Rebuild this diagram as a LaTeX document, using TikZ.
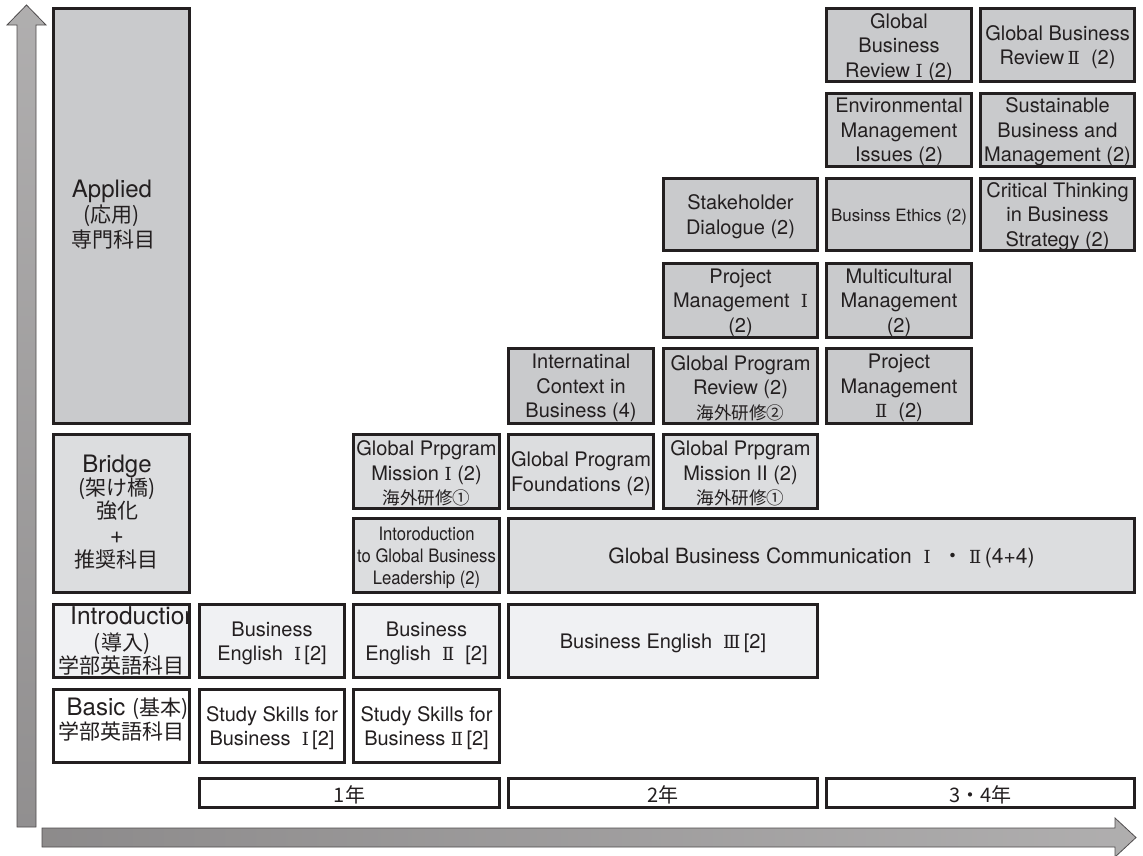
\documentclass[tikz,border=0pt]{standalone}
\usepackage{fontspec}
\setmainfont{TeX Gyre Heros}
\newfontfamily\jp{Noto Sans CJK JP}
\newfontfamily\rnf{DejaVu Serif}
\newfontfamily\cond[FakeStretch=0.9]{TeX Gyre Heros}
\definecolor{ink}{HTML}{231F20}
\definecolor{appl}{HTML}{C9CACC}
\definecolor{brdg}{HTML}{DCDDDF}
\definecolor{intro}{HTML}{F0F1F3}
\newcommand\RN[1]{{\rnf\fontsize{18pt}{24.5pt}\selectfont #1}}
\newcommand\J[1]{{\jp\fontsize{17.5pt}{24.5pt}\selectfont #1}}
\newcommand\JL[1]{{\jp\fontsize{21pt}{24.5pt}\selectfont #1}}
\newcommand\cbox[8][]{%
  \node[cb,fill=#7,minimum width={#5-#3-2.6},minimum height={#6-#4-2.6}] (#2) at ({(#3+#5)/2},{(#4+#6)/2}) {};
  \node[ctext,#1] (#2t) at ([yshift=-2.2pt]#2.center) {#8};}
\begin{document}
\begin{tikzpicture}[x=1pt,y=-1pt,
  cb/.style={draw=ink, line width=2.6pt, inner sep=0pt},
  ctext/.style={inner sep=0pt, align=center, text=ink, font=\fontsize{20pt}{24.5pt}\selectfont},
  lbl/.style={inner sep=0pt, text=ink, font=\fontsize{24pt}{24.5pt}\selectfont},
  yr/.style={font=\jp\fontsize{20pt}{22pt}\selectfont}]
\useasboundingbox (0,0) rectangle (1143,855);
% axes arrows
\path[draw=ink!80, line width=0.8pt, top color=ink!36, bottom color=ink!50]
  (17,827) -- (17,25) -- (7,25) -- (26.5,5) -- (46,25) -- (36,25) -- (36,827) -- cycle;
\path[draw=ink!80, line width=0.8pt, left color=ink!52, right color=ink!36]
  (42,828) -- (1115,828) -- (1115,818) -- (1136,837.5) -- (1115,857) -- (1115,847) -- (42,847) -- cycle;
% left level boxes
\cbox{applied}{52}{7}{191}{425}{appl}{}
\cbox{bridge}{52}{433}{191}{594}{brdg}{}
\cbox{introd}{52}{603}{191}{679}{intro}{}
\cbox{basic}{52}{688}{191}{764}{white}{}
\node[lbl,anchor=base] (apA) at (112,197) {Applied};
\node[lbl,anchor=base] (apB) at (111.5,222) {\JL{(応用)}};
\node[lbl,anchor=base] (apC) at (113,247) {\JL{専門科目}};
\node[lbl,anchor=base] (brA) at (117,472) {Bridge};
\node[lbl,anchor=base] (brB) at (117,495) {\JL{(架け橋)}};
\node[lbl,anchor=base] (brC) at (117,518) {\JL{強化}};
\node[lbl,anchor=base] (brD) at (117,543) {+};
\node[lbl,anchor=base] (brE) at (116.5,567) {\JL{推奨科目}};
\begin{scope}
\clip ([xshift=1.3pt,yshift=1.3pt]introd.south west) rectangle ([xshift=-1.3pt,yshift=-1.3pt]introd.north east);
\node[lbl,anchor=base west,font=\fontsize{24.5pt}{24.5pt}\selectfont] (inA) at (70,624) {Introduction};
\end{scope}
\node[lbl,anchor=base] (inB) at (122,650) {\JL{(導入)}};
\node[lbl,anchor=base] (inC) at (121.5,673) {\JL{学部英語科目}};
\node[lbl,anchor=base] (baA) at (127.5,715) {Basic \JL{(基本)}};
\node[lbl,anchor=base] (baB) at (121.5,739) {\JL{学部英語科目}};
% applied courses
\cbox{gbr1}{825}{7}{973}{83}{appl}{Global\\Business\\Review \RN{Ⅰ} (2)}
\cbox{gbr2}{979}{7}{1136}{83}{appl}{Global Business\\Review\,\RN{Ⅱ}\ \ (2)}
\cbox{env}{825}{92}{973}{168}{appl}{Environmental\\Management\\Issues (2)}
\cbox{sus}{979}{92}{1136}{168}{appl}{Sustainable\\Business and\\Management (2)}
\cbox{stake}{662}{177}{819}{252}{appl}{Stakeholder\\Dialogue (2)}
\cbox[font=\fontsize{17pt}{20pt}\selectfont]{ethics}{825}{177}{973}{252}{appl}{Businss Ethics (2)}
\cbox{crit}{979}{177}{1136}{252}{appl}{Critical Thinking\\in Business\\Strategy (2)}
\cbox{pmone}{662}{262}{819}{339}{appl}{Project\\Management\ \ \RN{Ⅰ}\\(2)}
\cbox{multi}{825}{262}{973}{339}{appl}{Multicultural\\Management\\(2)}
\cbox{intl}{507}{347}{655}{425}{appl}{Internatinal\\Context in\\Business (4)}
\cbox{gpr}{662}{347}{819}{425}{appl}{Global Program\\Review (2)\\\J{海外研修②}}
\cbox{pmtwo}{825}{347}{973}{425}{appl}{Project\\Management\\\RN{Ⅱ}\ \ (2)}
% bridge courses
\cbox{gpmone}{352}{433}{501}{510}{brdg}{Global Prpgram\\Mission \RN{Ⅰ} (2)\\\J{海外研修①}}
\cbox{gpf}{507}{433}{655}{510}{brdg}{Global Program\\Foundations (2)}
\cbox{gpmtwo}{662}{433}{819}{510}{brdg}{Global Prpgram\\Mission II (2)\\\J{海外研修①}}
\cbox[font=\cond\fontsize{18.5pt}{22pt}\selectfont]{iglb}{352}{517}{501}{594}{brdg}{Intoroduction\\to Global Business\\Leadership (2)}
\cbox[font=\fontsize{21pt}{24.5pt}\selectfont]{gbc}{507}{517}{1136}{594}{brdg}{Global Business Communication\ \ \RN{Ⅰ}\ \ {\jp・}\ \RN{Ⅱ}\,(4+4)}
% introduction / basic courses
\cbox{beone}{198}{603}{346}{679}{intro}{Business\\English\ \ \RN{Ⅰ}\,[2]}
\cbox{betwo}{352}{603}{501}{679}{intro}{Business\\English\ \ \RN{Ⅱ}\ \ [2]}
\cbox{bethree}{507}{603}{819}{679}{intro}{Business English\ \ \RN{Ⅲ}\,[2]}
\cbox{ssone}{198}{688}{346}{764}{white}{Study Skills for\\Business\ \ \RN{Ⅰ}\,[2]}
\cbox{sstwo}{352}{688}{501}{764}{white}{Study Skills for\\Business\ \RN{Ⅱ}\,[2]}
% years
\cbox[yr]{yone}{198}{777}{501}{809}{white}{1年}
\cbox[yr]{ytwo}{507}{777}{819}{809}{white}{2年}
\cbox[yr]{ythree}{825}{777}{1136}{809}{white}{3・4年}
\end{tikzpicture}
\end{document}
